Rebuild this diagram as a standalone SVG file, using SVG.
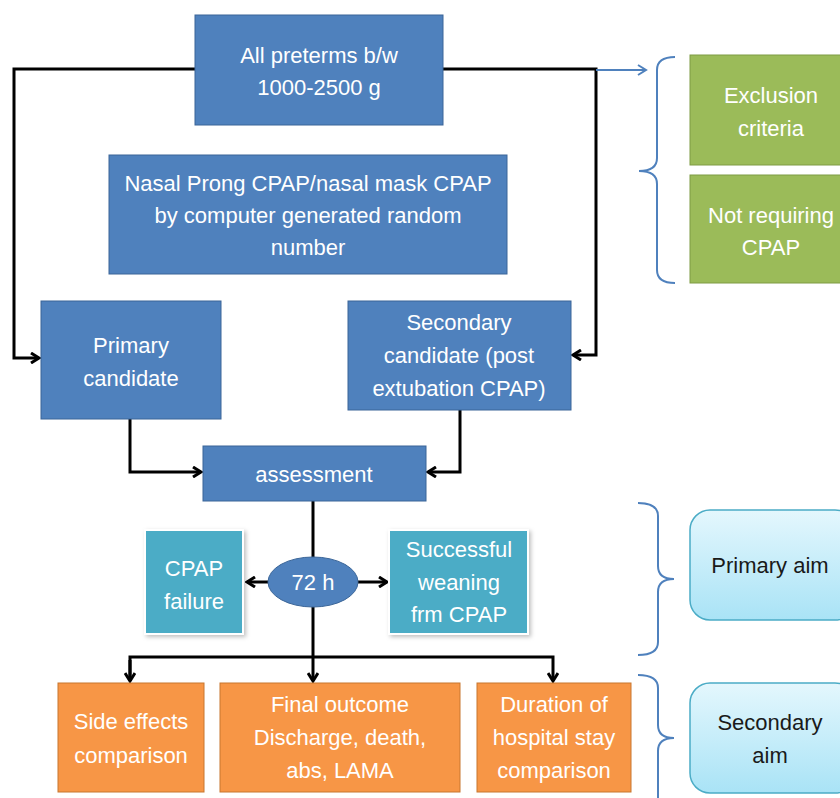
<svg xmlns="http://www.w3.org/2000/svg" width="840" height="798" viewBox="0 0 840 798">
<defs>
<marker id="ah" viewBox="0 0 12 12" refX="10" refY="6" markerWidth="12" markerHeight="12" markerUnits="userSpaceOnUse" orient="auto">
<polyline points="2,1 10,6 2,11" fill="none" stroke="#000" stroke-width="3"/>
</marker>
<marker id="ahb" viewBox="0 0 12 12" refX="10" refY="6" markerWidth="12" markerHeight="12" markerUnits="userSpaceOnUse" orient="auto">
<polyline points="2,1 10,6 2,11" fill="none" stroke="#4F81BD" stroke-width="2"/>
</marker>
<linearGradient id="cy" x1="0" y1="0" x2="0" y2="1">
<stop offset="0" stop-color="#E4F7FD"/>
<stop offset="1" stop-color="#A9E3F6"/>
</linearGradient>
<filter id="sh" x="-10%" y="-10%" width="130%" height="130%">
<feDropShadow dx="2" dy="2" stdDeviation="2" flood-color="#000" flood-opacity="0.25"/>
</filter>
</defs>
<style>
.blue{fill:#4F81BD;stroke:#3A6598;stroke-width:1}
.green{fill:#9BBB59;stroke:#7E9B45;stroke-width:1}
.teal{fill:#4BACC6;stroke:#fff;stroke-width:2;filter:url(#sh)}
.orange{fill:#F79646;stroke:#C8762F;stroke-width:1}
.aim{fill:url(#cy);stroke:#4BACC6;stroke-width:1.5}
text{font-family:"Liberation Sans",Arial,sans-serif;font-size:22px;fill:#fff;text-anchor:middle}
.dark{fill:#1a1a1a}
.con{fill:none;stroke:#000;stroke-width:3}
.brace{fill:none;stroke:#4F81BD;stroke-width:2}
</style>
<rect width="840" height="798" fill="#fff"/>

<g id="connectors">
<polyline class="con" points="195,69 14,69 14,358 39,358" marker-end="url(#ah)"/>
<polyline class="con" points="443,69 596,69 596,355 573,355" marker-end="url(#ah)"/>
<line x1="596" y1="70" x2="646" y2="70" stroke="#4F81BD" stroke-width="2" marker-end="url(#ahb)"/>
<polyline class="con" points="130,419 130,472 201,472" marker-end="url(#ah)"/>
<polyline class="con" points="460,410 460,472 428,472" marker-end="url(#ah)"/>
<line class="con" x1="313" y1="501" x2="313" y2="558"/>
<line class="con" x1="268" y1="582" x2="247" y2="582" marker-end="url(#ah)"/>
<line class="con" x1="358" y1="582" x2="387" y2="582" marker-end="url(#ah)"/>
<line class="con" x1="313" y1="607" x2="313" y2="681" marker-end="url(#ah)"/>
<polyline class="con" points="130,681 130,657 553,657 553,681" marker-end="url(#ah)"/>
<polyline class="con" points="130,660 130,681" marker-end="url(#ah)"/>
</g>

<g id="braces">
<path class="brace" d="M675,57 Q657,57 657,70 L657,158 Q657,171 639,171 Q657,171 657,184 L657,270 Q657,283 675,283"/>
<path class="brace" d="M638,503 Q658,503 658,516 L658,566 Q658,579 674,579 Q658,579 658,592 L658,642 Q658,655 638,655"/>
<path class="brace" d="M638,675 Q658,675 658,688 L658,725 Q658,738 674,738 Q658,738 658,751 L658,800"/>
</g>

<g id="n-top">
<rect class="blue" x="195" y="15" width="248" height="110"/>
<text x="319" y="63">All preterms b/w</text>
<text x="319" y="95">1000-2500 g</text>
</g>
<g id="n-random">
<rect class="blue" x="109" y="155" width="398" height="119"/>
<text x="308" y="191">Nasal Prong CPAP/nasal mask CPAP</text>
<text x="308" y="223">by computer generated random</text>
<text x="308" y="255">number</text>
</g>
<g id="n-primary">
<rect class="blue" x="41" y="301" width="180" height="118"/>
<text x="131" y="353">Primary</text>
<text x="131" y="386">candidate</text>
</g>
<g id="n-secondary">
<rect class="blue" x="348" y="301" width="223" height="109"/>
<text x="459" y="330">Secondary</text>
<text x="459" y="363">candidate (post</text>
<text x="459" y="396">extubation CPAP)</text>
</g>
<g id="n-assess">
<rect class="blue" x="203" y="446" width="223" height="55"/>
<text x="314" y="482">assessment</text>
</g>
<g id="n-72h">
<ellipse cx="313" cy="582" rx="45" ry="25" fill="#4F81BD" stroke="#3A6598" stroke-width="1"/>
<text x="313" y="590">72 h</text>
</g>
<g id="n-failure">
<rect class="teal" x="145" y="530" width="98" height="104"/>
<text x="194" y="576">CPAP</text>
<text x="194" y="609">failure</text>
</g>
<g id="n-success">
<rect class="teal" x="389" y="530" width="139" height="104"/>
<text x="459" y="557">Successful</text>
<text x="459" y="590">weaning</text>
<text x="459" y="622">frm CPAP</text>
</g>
<g id="n-side">
<rect class="orange" x="58" y="683" width="146" height="109"/>
<text x="131" y="729">Side effects</text>
<text x="131" y="763">comparison</text>
</g>
<g id="n-final">
<rect class="orange" x="220" y="683" width="240" height="109"/>
<text x="340" y="712">Final outcome</text>
<text x="340" y="745">Discharge, death,</text>
<text x="340" y="778">abs, LAMA</text>
</g>
<g id="n-duration">
<rect class="orange" x="477" y="683" width="154" height="109"/>
<text x="554" y="712">Duration of</text>
<text x="554" y="745">hospital stay</text>
<text x="554" y="778">comparison</text>
</g>
<g id="n-exclusion">
<rect class="green" x="690" y="55" width="160" height="110"/>
<text x="771" y="103">Exclusion</text>
<text x="771" y="136">criteria</text>
</g>
<g id="n-notreq">
<rect class="green" x="690" y="175" width="160" height="108"/>
<text x="771" y="223">Not requiring</text>
<text x="771" y="255">CPAP</text>
</g>
<g id="n-primaryaim">
<rect class="aim" x="690" y="510" width="165" height="110" rx="20"/>
<text class="dark" x="770" y="573">Primary aim</text>
</g>
<g id="n-secondaryaim">
<rect class="aim" x="690" y="683" width="165" height="110" rx="20"/>
<text class="dark" x="770" y="730">Secondary</text>
<text class="dark" x="770" y="763">aim</text>
</g>
</svg>
